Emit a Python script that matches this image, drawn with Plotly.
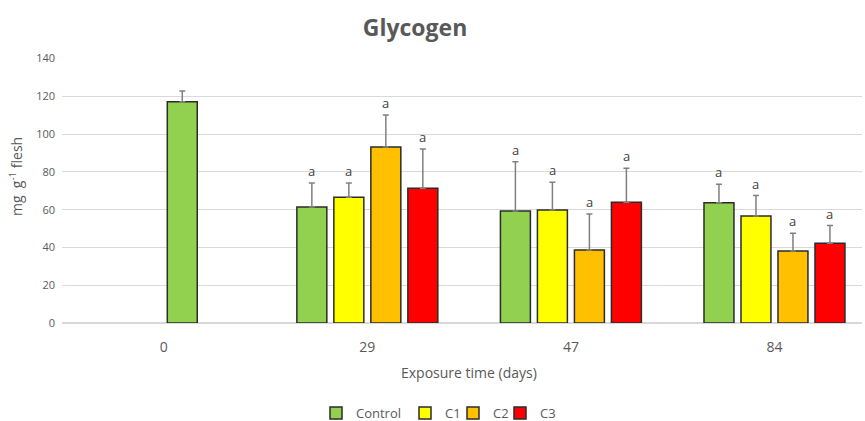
import plotly.graph_objects as go

categories = ["0", "29", "47", "84"]
series_names = ["Control", "C1", "C2", "C3"]
colors = ["#92D050", "#FFFF00", "#FFC000", "#FF0000"]

# Day 0 (control only)
day0_value = [117.2]
day0_err = [5.6]

# Days 29, 47, 84
days = ["29", "47", "84"]
control_vals = [61.4, 59.3, 63.7]
control_err = [12.7, 26.1, 9.7]
c1_vals = [66.6, 59.8, 56.7]
c1_err = [7.5, 14.7, 10.8]
c2_vals = [93.2, 38.7, 38.1]
c2_err = [16.9, 19.0, 9.4]
c3_vals = [71.3, 63.9, 42.2]
c3_err = [20.8, 18.0, 9.4]
letters = [["a", "a", "a"], ["a", "a", "a"], ["a", "a", "a"], ["a", "a", "a"]]

vals = [control_vals, c1_vals, c2_vals, c3_vals]
errs = [control_err, c1_err, c2_err, c3_err]

BARGAP = 0.273
GRAY = "#595959"
FONT = "Open Sans"
ML, MR, MT, MB = 62, 3, 58, 98
W, H = 865, 421
PW, PH = W - ML - MR, H - MT - MB

def px_x(px):
    return (px - ML) / PW

def px_y(py):
    return (H - MB - py) / PH

legend_ids = ["legend", "legend2", "legend3", "legend4"]
legend_sq_px = [336, 425, 473, 520]

fig = go.Figure()

for i, name in enumerate(series_names):
    fig.add_trace(go.Bar(
        x=days, y=vals[i], name=name, legendgroup=name, offsetgroup=name,
        legend=legend_ids[i],
        marker=dict(color=colors[i], line=dict(color="#2b2b2b", width=1.5)),
        error_y=dict(type="data", array=errs[i], arrayminus=[0] * len(days), symmetric=False,
                     color="#808080", thickness=1.5, width=3),
    ))

# Day-0 control bar (sits in the third slot, as in the original)
fig.add_trace(go.Bar(
    x=["0"], y=day0_value, name="Control", legendgroup="Control", showlegend=False,
    offsetgroup="C2",
    marker=dict(color=colors[0], line=dict(color="#2b2b2b", width=1.5)),
    error_y=dict(type="data", array=day0_err, arrayminus=[0], symmetric=False,
                 color="#808080", thickness=1.5, width=3),
))

# significance letters above the error bars
slot = (1 - BARGAP) / 4
for i in range(4):
    for j, d in enumerate(days):
        idx = categories.index(d)
        fig.add_annotation(
            x=idx + (i - 1.5) * slot, y=vals[i][j] + errs[i][j],
            text=letters[i][j], showarrow=False, yanchor="bottom", yshift=1,
            font=dict(family=FONT, size=13, color="#404040"),
        )

# axis titles
fig.add_annotation(
    xref="paper", yref="paper", x=px_x(469), y=px_y(372), text="Exposure time (days)",
    showarrow=False, xanchor="center", yanchor="middle",
    font=dict(family=FONT, size=14, color=GRAY),
)
fig.add_annotation(
    xref="paper", yref="paper", x=px_x(16), y=px_y(177), text="mg  g<sup>-1</sup> flesh",
    showarrow=False, xanchor="center", yanchor="middle", textangle=-90,
    font=dict(family=FONT, size=14, color=GRAY),
)

legends = {}
for k, lid in enumerate(legend_ids):
    legends[lid] = dict(orientation="h", x=px_x(legend_sq_px[k] - 20), xanchor="left",
                        y=px_y(413), yanchor="middle", bgcolor="rgba(0,0,0,0)",
                        font=dict(family=FONT, size=13, color=GRAY), itemwidth=30)

fig.update_layout(
    width=W, height=H,
    margin=dict(l=ML, r=MR, t=MT, b=MB, autoexpand=False),
    paper_bgcolor="white", plot_bgcolor="white",
    barmode="group", bargap=BARGAP, bargroupgap=0.19,
    title=dict(text="<b>Glycogen</b>", x=px_x(415), xref="paper", xanchor="center",
               y=1 - 28 / H, yanchor="middle",
               font=dict(family=FONT, size=23, color=GRAY)),
    font=dict(family=FONT, color=GRAY),
    xaxis=dict(type="category", categoryorder="array", categoryarray=categories,
               range=[-0.5, 3.43], showgrid=False, showline=False, automargin=False,
               tickfont=dict(family=FONT, size=14, color=GRAY), ticklabelstandoff=14),
    yaxis=dict(range=[0, 140.3], tickvals=[0, 20, 40, 60, 80, 100, 120, 140],
               showgrid=True, gridcolor="#D9D9D9", gridwidth=1, automargin=False,
               zeroline=True, zerolinecolor="#D9D9D9", zerolinewidth=1.5,
               tickfont=dict(family=FONT, size=11, color=GRAY), ticklabelstandoff=6),
    **legends,
)

fig.write_html("out.html", config={"displayModeBar": False},
               post_script="document.body.style.margin='0px';document.body.style.overflow='hidden';")
